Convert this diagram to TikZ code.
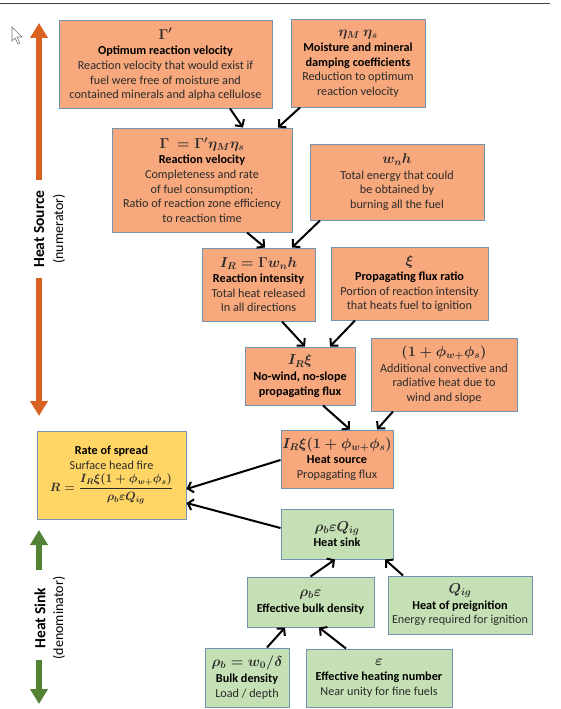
\documentclass[tikz,border=0pt]{standalone}
\usepackage{amsmath}
\usepackage{fontspec}
\setmainfont{Carlito}
\usetikzlibrary{arrows.meta}
\definecolor{orf}{HTML}{F7A87C}
\definecolor{yef}{HTML}{FFD666}
\definecolor{grf}{HTML}{C5E0B4}
\definecolor{bordc}{HTML}{7393B3}
\definecolor{txtc}{HTML}{2B2B2B}
\definecolor{ora}{HTML}{D86221}
\definecolor{gra}{HTML}{548235}
\newcommand\mln[1]{{\fontsize{14}{16}\selectfont\boldmath$#1$}\\[1pt]}
\newcommand\bl[1]{\textbf{\color{black}#1}}
\tikzset{
  bx/.style={draw=bordc, line width=1pt, inner sep=1pt, align=center, text=txtc,
    font=\fontsize{12.2}{14.6}\selectfont},
  ob/.style={bx, fill=orf},
  yb/.style={bx, fill=yef},
  gb/.style={bx, fill=grf},
  con/.style={draw=black, line width=2pt, -{Straight Barb[length=5pt,width=11pt]}},
  sidearrow/.style={line width=6pt, -{Triangle[length=15pt,width=17pt]}},
  sidelab/.style={rotate=90, text=black, inner sep=0pt}
}
\begin{document}
\begin{tikzpicture}[x=1pt,y=-1pt]
\useasboundingbox (0,0) rectangle (560,709);
\draw[line width=1pt, draw=black!75] (0,4) -- (550,4);
% cursor
\draw[line width=0.6pt, draw=black!55, fill=white]
  (12,27) -- (12,41) -- (15,38) -- (18,44) -- (20,43) -- (17,37) -- (22,37) -- cycle;

% side arrows
\draw[sidearrow, draw=ora, fill=ora] (39,180) -- (39,23);
\draw[sidearrow, draw=ora, fill=ora] (39,278) -- (39,416);
\node[sidelab, font=\fontsize{15.5}{17}\selectfont\bfseries] (hsrc) at (39,229) {Heat Source};
\node[sidelab, font=\fontsize{14}{17}\selectfont] (num) at (59,229) {(numerator)};
\draw[sidearrow, draw=gra, fill=gra] (39,570) -- (39,530);
\draw[sidearrow, draw=gra, fill=gra] (39,660) -- (39,704);
\node[sidelab, font=\fontsize{15.5}{17}\selectfont\bfseries] (hsnk) at (40,618) {Heat Sink};
\node[sidelab, font=\fontsize{14}{17}\selectfont] (den) at (59,618) {(denominator)};

% boxes
\node[ob, minimum width=213pt, minimum height=87pt] (gp) at (165.5,64.5)
  {\mln{\Gamma'}\bl{Optimum reaction velocity}\\Reaction velocity that would exist if\\fuel were free of moisture and\\contained minerals and alpha cellulose};
\node[ob, minimum width=134pt, minimum height=87pt] (eta) at (358,63.5)
  {\mln{\eta_M\ \eta_s}\bl{Moisture and mineral}\\\bl{damping coefficients}\\Reduction to optimum\\reaction velocity};
\node[ob, minimum width=180pt, minimum height=104pt] (gam) at (202,180)
  {\mln{\Gamma\ =\Gamma'\eta_M\eta_s}\bl{Reaction velocity}\\Completeness and rate\\of fuel consumption;\\Ratio of reaction zone efficiency\\to reaction time};
\node[ob, minimum width=174pt, minimum height=76pt] (wnh) at (397,182)
  {\mln{w_n h}Total energy that could\\be obtained by\\burning all the fuel};
\node[ob, minimum width=113pt, minimum height=73pt] (ir) at (258.5,284.5)
  {\mln{I_R=\Gamma w_n h}\bl{Reaction intensity}\\Total heat released\\In all directions};
\node[ob, minimum width=157pt, minimum height=73pt] (xi) at (409.5,283.5)
  {\mln{\xi}\bl{Propagating flux ratio}\\Portion of reaction intensity\\that heats fuel to ignition};
\node[ob, minimum width=110pt, minimum height=58pt] (irxi) at (300,376)
  {\mln{I_R\xi}\bl{No-wind, no-slope}\\\bl{propagating flux}};
\node[ob, minimum width=146pt, minimum height=73pt] (phi) at (444,374.5)
  {\mln{(1+\phi_{w+}\phi_s)}Additional convective and\\radiative heat due to\\wind and slope};
\node[ob, minimum width=112pt, minimum height=58pt] (hs) at (337,459)
  {\mln{I_R\xi(1+\phi_{w+}\phi_s)}\bl{Heat source}\\Propagating flux};
\node[yb, minimum width=149pt, minimum height=88pt] (ros) at (111.5,475)
  {\bl{Rate of spread}\\Surface head fire\\[3pt]{\fontsize{12}{14}\selectfont\boldmath$R=\dfrac{I_R\xi(1+\phi_{w+}\phi_s)}{\rho_b\varepsilon Q_{ig}}$}};
\node[gb, minimum width=112pt, minimum height=50pt] (sink) at (337,534)
  {\mln{\rho_b\varepsilon Q_{ig}}\bl{Heat sink}};
\node[gb, minimum width=127pt, minimum height=50pt] (rbe) at (310.5,602)
  {\mln{\rho_b\varepsilon}\bl{Effective bulk density}};
\node[gb, minimum width=144pt, minimum height=58pt] (qig) at (460,605)
  {\mln{Q_{ig}}\bl{Heat of preignition}\\Energy required for ignition};
\node[gb, minimum width=84pt, minimum height=59pt] (rb) at (247,677.5)
  {\mln{\rho_b=w_0/\delta}\bl{Bulk density}\\Load / depth};
\node[gb, minimum width=146pt, minimum height=58pt] (eps) at (379,678)
  {\mln{\varepsilon}\bl{Effective heating number}\\Near unity for fine fuels};

% connectors
\draw[con] ([xshift=64.5pt]gp.south) -- ([xshift=41pt]gam.north);
\draw[con] ([xshift=-58pt]eta.south) -- ([xshift=76pt]gam.north);
\draw[con] ([xshift=45pt]gam.south) -- ([xshift=6.5pt]ir.north);
\draw[con] ([xshift=-77pt]wnh.south) -- ([xshift=33.5pt]ir.north);
\draw[con] ([xshift=23.5pt]ir.south) -- ([xshift=5pt]irxi.north);
\draw[con] ([xshift=-54.5pt]xi.south) -- ([xshift=30pt]irxi.north);
\draw[con] ([xshift=23pt]irxi.south) -- ([xshift=13pt]hs.north);
\draw[con] ([xshift=-51pt]phi.south) -- ([xshift=40pt]hs.north);
\draw[con] ([yshift=-1pt]hs.west) -- ([yshift=-14pt]ros.east);
\draw[con] ([yshift=6pt]sink.west) -- ([yshift=-28pt]ros.east);
\draw[con] (rbe.north) -- ([xshift=-2pt]sink.south);
\draw[con] ([xshift=-57pt]qig.north) -- ([xshift=48pt]sink.south);
\draw[con] ([xshift=20pt]rb.north) -- ([xshift=-25.5pt]rbe.south);
\draw[con] ([xshift=-33pt]eps.north) -- ([xshift=8.5pt]rbe.south);
\end{tikzpicture}
\end{document}
